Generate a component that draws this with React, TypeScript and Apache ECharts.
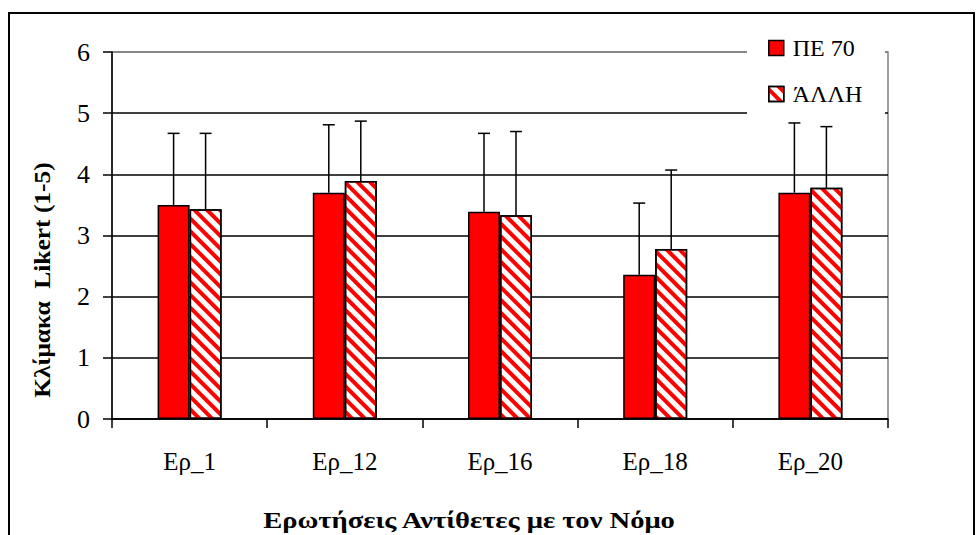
import React, { useEffect, useRef } from "react";
import * as echarts from "echarts";

const categories = ["Ερ_1", "Ερ_12", "Ερ_16", "Ερ_18", "Ερ_20"];
const pe70Values = [3.5, 3.7, 3.39, 2.36, 3.7];
const allhValues = [3.43, 3.89, 3.33, 2.78, 3.78];
const pe70Err = [1.17, 1.11, 1.28, 1.17, 1.14];
const allhErr = [1.24, 0.98, 1.37, 1.29, 1.0];
const yTicks = [0, 1, 2, 3, 4, 5, 6];
const seriesNames = ["ΠΕ 70", "ΆΛΛΗ"];

const FONT = "Liberation Serif";

export default function App() {
  const ref = useRef<HTMLDivElement>(null);
  useEffect(() => {
    document.body.style.margin = "0";
    const chart = echarts.init(ref.current!, null, { renderer: "svg" });
    const hatch = {
      symbol: "rect",
      symbolSize: 1,
      dashArrayX: [1, 0],
      dashArrayY: [4, 5],
      rotation: Math.PI / 4,
      color: "#ff0000",
      backgroundColor: "#ffffff",
    };
    const makeErr = (vals: number[], errs: number[], offset: number, name: string) => ({
      type: "custom",
      name: name + "_err",
      z: 3,
      silent: true,
      data: vals.map((v, i) => [i, v, errs[i]]),
      encode: { x: 0, y: 1 },
      renderItem: (params: any, api: any) => {
        const idx = api.value(0);
        const v = api.value(1);
        const e = api.value(2);
        const p1 = api.coord([idx, v]);
        const p2 = api.coord([idx, v + e]);
        const x = p1[0] + offset;
        const st = { stroke: "#000", lineWidth: 1.5 };
        return {
          type: "group",
          children: [
            { type: "line", shape: { x1: x, y1: p1[1], x2: x, y2: p2[1] }, style: st },
            { type: "line", shape: { x1: x - 6, y1: p2[1], x2: x + 6, y2: p2[1] }, style: st },
          ],
        };
      },
    });
    chart.setOption({
      animation: false,
      backgroundColor: "#fff",
      textStyle: { fontFamily: FONT },
      grid: {
        left: 112,
        right: 89,
        top: 52,
        bottom: 116,
        show: true,
        borderColor: "#808080",
        borderWidth: 1.5,
        backgroundColor: "transparent",
      },
      legend: {
        data: seriesNames,
        orient: "vertical",
        left: 768,
        top: 36,
        padding: 0,
        itemWidth: 15,
        itemHeight: 15,
        itemGap: 22,
        icon: "rect",
        selectedMode: false,
        textStyle: {
          fontFamily: FONT,
          fontSize: 24,
          color: "#000",
          lineHeight: 24,
          padding: [0, 0, 0, 4],
        },
        itemStyle: { borderColor: "#000", borderWidth: 1.5 },
        z: 5,
      },
      xAxis: {
        type: "category",
        data: categories,
        axisLine: { show: true, lineStyle: { color: "#000", width: 1.5 } },
        axisTick: { show: true, length: 9, lineStyle: { color: "#000", width: 1.5 } },
        axisLabel: { margin: 30, fontFamily: FONT, fontSize: 25, color: "#000" },
        splitLine: { show: false },
      },
      yAxis: {
        type: "value",
        min: yTicks[0],
        max: yTicks[yTicks.length - 1],
        interval: 1,
        axisLine: { show: true, lineStyle: { color: "#000", width: 1.5 } },
        axisTick: { show: true, length: 9, lineStyle: { color: "#000", width: 1.5 } },
        axisLabel: { margin: 22, fontFamily: FONT, fontSize: 26, color: "#000" },
        splitLine: {
          show: true,
          lineStyle: {
            color: yTicks.map((t, i) => (i === yTicks.length - 1 ? "#808080" : "#000")),
            width: 1.5,
          },
        },
      },
      graphic: [
        {
          type: "rect",
          z: 3,
          shape: { x: 747, y: 25, width: 138, height: 93 },
          style: { fill: "#fff" },
        },
        {
          type: "rect",
          z: 10,
          shape: { x: 9, y: 13, width: 965, height: 600 },
          style: { fill: "none", stroke: "#000", lineWidth: 2 },
        },
        {
          type: "text",
          z: 10,
          x: 42,
          y: 280,
          rotation: Math.PI / 2,
          scaleX: 1.06,
          style: {
            text: "Κλίμακα  Likert (1-5)",
            fontFamily: FONT,
            fontSize: 24,
            fontWeight: "bold",
            fill: "#000",
            align: "center",
            verticalAlign: "middle",
          },
        },
        {
          type: "text",
          z: 10,
          x: 469,
          y: 520,
          scaleX: 1.19,
          style: {
            text: "Ερωτήσεις Αντίθετες με τον Νόμο",
            fontFamily: FONT,
            fontSize: 24,
            fontWeight: "bold",
            fill: "#000",
            align: "center",
            verticalAlign: "middle",
          },
        },
      ],
      series: [
        {
          type: "bar",
          name: seriesNames[0],
          data: pe70Values,
          barWidth: 32,
          barGap: "0%",
          itemStyle: { color: "#ff0000", borderColor: "#000", borderWidth: 1.5 },
        },
        {
          type: "bar",
          name: seriesNames[1],
          data: allhValues,
          barWidth: 32,
          barGap: "0%",
          itemStyle: { color: "#ffffff", borderColor: "#000", borderWidth: 1.5, decal: hatch },
        },
        makeErr(pe70Values, pe70Err, -16, seriesNames[0]),
        makeErr(allhValues, allhErr, 16, seriesNames[1]),
      ],
    });
    return () => chart.dispose();
  }, []);
  return <div ref={ref} style={{ width: 977, height: 535 }} />;
}
